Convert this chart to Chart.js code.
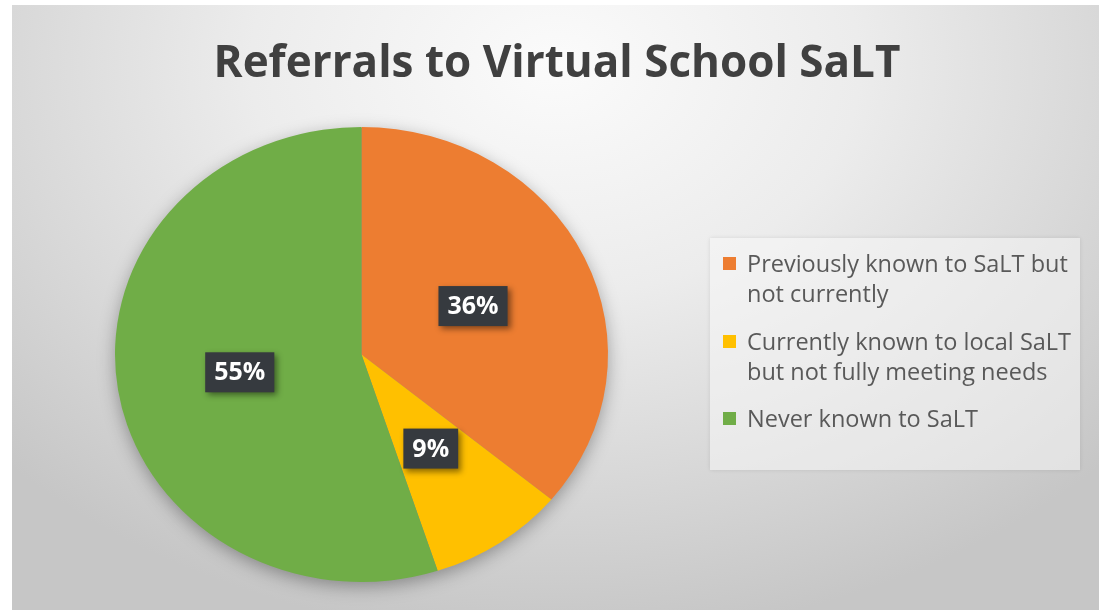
<!DOCTYPE html>
<html><head><meta charset="utf-8">
<script src="https://cdn.jsdelivr.net/npm/chart.js@4/dist/chart.umd.min.js"></script>
<style>
html,body{margin:0;padding:0;background:#fff;}
body{width:1099px;height:610px;position:relative;overflow:hidden;}
#frame{position:absolute;left:12px;top:5px;width:1087px;height:605px;
 background: radial-gradient(ellipse 70% 95% at 50% 10%, #fbfbfb 0%, #ececec 40%, #d8d8d8 72%, #c6c6c6 100%);}
#chartWrap{position:absolute;left:0;top:0;width:1087px;height:605px;}
#title{position:absolute;left:0;top:25px;width:1090px;text-align:center;font-family:'Open Sans',sans-serif;font-weight:bold;font-size:44px;line-height:60px;color:#404040;white-space:nowrap;}
#legend{position:absolute;left:698px;top:233px;width:370px;height:232px;background:rgba(248,248,248,0.55);box-shadow:0 0 4px rgba(0,0,0,0.10);
 font-family:'Open Sans',sans-serif;font-size:23.5px;color:#595959;}
.item{position:absolute;left:37px;line-height:30px;white-space:nowrap;}
.mark{position:absolute;left:-24px;top:9px;width:13px;height:13px;}
</style></head>
<body>
<div id="frame">
 <div id="chartWrap"><canvas id="c" width="1087" height="605"></canvas></div>
 <div id="title"></div>
 <div id="legend"></div>
</div>
<script>
const titleText = 'Referrals to Virtual School SaLT';
const categories = [
  ['Previously known to SaLT but', 'not currently'],
  ['Currently known to local SaLT', 'but not fully meeting needs'],
  ['Never known to SaLT']
];
const shares = [36, 9, 55];
const shareLabels = ['36%', '9%', '55%'];
const sliceColors = ['#ED7D31', '#FFC000', '#70AD47'];

const SX = 246.5 / 227.5;

const ellipsePlugin = {
  id: 'ellipse',
  beforeDatasetsDraw(chart) {
    const ctx = chart.ctx;
    const arc = chart.getDatasetMeta(0).data[0];
    const cx = arc.x, cy = arc.y, r = arc.outerRadius;
    ctx.save();
    ctx.translate(cx, cy); ctx.scale(SX, 1); ctx.translate(-cx, -cy);
    ctx.save();
    ctx.shadowColor = 'rgba(0,0,0,0.35)';
    ctx.shadowBlur = 18; ctx.shadowOffsetY = 5;
    ctx.beginPath(); ctx.arc(cx, cy, r - 1, 0, Math.PI * 2);
    ctx.fillStyle = '#8a8a8a'; ctx.fill();
    ctx.restore();
  },
  afterDatasetsDraw(chart) {
    const ctx = chart.ctx;
    ctx.restore();
    const meta = chart.getDatasetMeta(0);
    ctx.save();
    ctx.font = 'bold 25px "Open Sans"';
    ctx.textAlign = 'center'; ctx.textBaseline = 'middle';
    meta.data.forEach((el, i) => {
      const p = el.tooltipPosition();
      const x = el.x + (p.x - el.x) * SX, y = p.y;
      const txt = shareLabels[i];
      const w = ctx.measureText(txt).width + 18, h = 40;
      ctx.save();
      ctx.shadowColor = 'rgba(0,0,0,0.45)'; ctx.shadowBlur = 6; ctx.shadowOffsetX = 3; ctx.shadowOffsetY = 3;
      ctx.fillStyle = '#363a3f';
      ctx.fillRect(x - w / 2, y - h / 2, w, h);
      ctx.restore();
      ctx.fillStyle = '#ffffff';
      ctx.fillText(txt, x, y + 1);
    });
    ctx.restore();
  }
};

new Chart(document.getElementById('c'), {
  type: 'pie',
  data: {
    labels: categories,
    datasets: [{ data: shares, backgroundColor: sliceColors, borderWidth: 0, clip: false }]
  },
  options: {
    responsive: false,
    animation: false,
    layout: { padding: { left: 122, right: 510, top: 122, bottom: 28 } },
    plugins: {
      legend: { display: false },
      tooltip: { enabled: false },
      title: { display: false }
    }
  },
  plugins: [ellipsePlugin]
});

document.getElementById('title').textContent = titleText;

// HTML legend built from the same arrays
const legend = document.getElementById('legend');
const tops = [10, 88, 165];
categories.forEach((lines, i) => {
  const d = document.createElement('div');
  d.className = 'item';
  d.style.top = tops[i] + 'px';
  const m = document.createElement('span');
  m.className = 'mark'; m.style.background = sliceColors[i];
  d.appendChild(m);
  lines.forEach((ln, j) => { if (j) d.appendChild(document.createElement('br')); d.appendChild(document.createTextNode(ln)); });
  legend.appendChild(d);
});
</script>
</body></html>
